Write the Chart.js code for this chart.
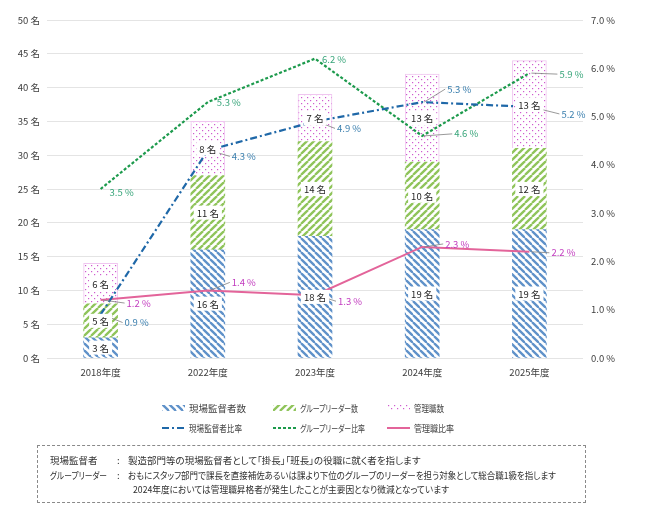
<!DOCTYPE html>
<html>
<head>
<meta charset="utf-8">
<script src="https://cdn.jsdelivr.net/npm/chart.js@4/dist/chart.umd.min.js"></script>
<style>
  body { margin: 0; background: #fff; font-family: "Noto Sans CJK JP", sans-serif; }
  #wrap { position: relative; width: 645px; height: 519px; }
  .lg { position: absolute; display: flex; align-items: center; font-size: 9.5px; color: #404040;
        font-feature-settings: "palt"; white-space: nowrap; }
  .lg canvas { margin-right: 4px; }
  .lg span, #note div { display: inline-block; transform-origin: 0 50%; }
  #note { position: absolute; left: 37px; top: 445px; width: 549px; height: 58px;
          border: 1px dashed #8a8a8a; box-sizing: border-box; font-size: 9.5px; color: #303030;
          font-feature-settings: "palt"; }
  #note div { position: absolute; white-space: nowrap; }
</style>
</head>
<body>
<div id="wrap">
  <canvas id="chart" width="645" height="519"></canvas>
  <div id="legend"></div>
  <div id="note">
    <div data-w="48" style="left:12px;top:7px">現場監督者</div>
    <div style="left:79px;top:7px">:</div>
    <div data-w="333" style="left:90px;top:7px">製造部門等の現場監督者として「掛長」「班長」の役職に就く者を指します</div>
    <div data-w="57" style="left:12px;top:22px">グループリーダー</div>
    <div style="left:79px;top:22px">:</div>
    <div data-w="428" style="left:90px;top:22px">おもにスタッフ部門で課長を直接補佐あるいは課より下位のグループのリーダーを担う対象として総合職1級を指します</div>
    <div data-w="316" style="left:95px;top:36px">2024年度においては管理職昇格者が発生したことが主要因となり微減となっています</div>
  </div>
</div>
<script>
const years = ["2018年度", "2022年度", "2023年度", "2024年度", "2025年度"];

const supervisors = [3, 16, 18, 19, 19];
const groupLeaders = [5, 11, 14, 10, 12];
const managers = [6, 8, 7, 13, 13];

const supervisorRate = [0.9, 4.3, 4.9, 5.3, 5.2];
const leaderRate = [3.5, 5.3, 6.2, 4.6, 5.9];
const managerRate = [1.2, 1.4, 1.3, 2.3, 2.2];

const countTicks = [0, 5, 10, 15, 20, 25, 30, 35, 40, 45, 50];
const rateTicks = [0, 1, 2, 3, 4, 5, 6, 7];

// hatch fills, like the office chart patterns
function makePattern(kind) {
    const c = document.createElement('canvas');
    const s = kind === 'dots' ? 6 : 7;
    c.width = s; c.height = s;
    const g = c.getContext('2d');
    g.fillStyle = '#fff';
    g.fillRect(0, 0, s, s);
    if (kind === 'dots') {
        g.fillStyle = '#cf5acf';
        g.fillRect(1, 1, 1.2, 1.2);
        g.fillRect(4, 4, 1.2, 1.2);
    } else {
        g.strokeStyle = kind === 'back' ? '#5f91c9' : '#8fc45a';
        g.lineWidth = 2.3;
        for (const k of [-s, 0, s]) {
            g.beginPath();
            if (kind === 'back') { g.moveTo(k, 0); g.lineTo(k + s, s); }
            else { g.moveTo(k, s); g.lineTo(k + s, 0); }
            g.stroke();
        }
    }
    return g.createPattern(c, 'repeat');
}

const blueHatch = makePattern('back');
const greenHatch = makePattern('fwd');
const pinkDots = makePattern('dots');

const labelFont = '9.5px "Noto Sans CJK JP", sans-serif';

// boxed "n 名" labels in the middle of each bar piece, then % labels with leaders
const labelPlugin = {
    id: 'labels',
    afterDatasetsDraw(chart) {
        const ctx = chart.ctx;
        ctx.save();
        ctx.font = labelFont;
        ctx.textBaseline = 'middle';
        chart.data.datasets.forEach((ds, i) => {
            if (ds.type !== 'line') return;
            const meta = chart.getDatasetMeta(i);
            meta.data.forEach((pt, j) => {
                const [dx, dy] = ds.labelOffsets[j];
                const tx = pt.x + dx, ty = pt.y + dy;
                if (Math.hypot(dx, dy) > 14) {
                    ctx.strokeStyle = '#7f7f7f';
                    ctx.lineWidth = 0.8;
                    ctx.setLineDash([]);
                    ctx.beginPath();
                    ctx.moveTo(pt.x + 2, pt.y);
                    ctx.lineTo(tx - 2, ty);
                    ctx.stroke();
                }
                ctx.fillStyle = ds.labelColor;
                ctx.textAlign = 'left';
                ctx.fillText(ds.data[j].toFixed(1) + ' %', tx, ty);
            });
        });
        chart.data.datasets.forEach((ds, i) => {
            if (ds.type === 'line') return;
            const meta = chart.getDatasetMeta(i);
            meta.data.forEach((bar, j) => {
                const txt = ds.data[j] + ' 名';
                const cy = (bar.y + bar.base) / 2;
                const w = ctx.measureText(txt).width + 6;
                ctx.fillStyle = '#fff';
                ctx.fillRect(bar.x - w / 2, cy - 7, w, 14);
                ctx.fillStyle = '#262626';
                ctx.textAlign = 'center';
                ctx.fillText(txt, bar.x, cy + 0.5);
            });
        });
        ctx.restore();
    }
};

const tickFont = { family: '"Noto Sans CJK JP", sans-serif', size: 9.5 };

const config = {
    type: 'bar',
    data: {
        labels: years,
        datasets: [
            {
                label: '現場監督者数',
                data: supervisors,
                backgroundColor: blueHatch,
                yAxisID: 'y',
                order: 1,
            },
            {
                label: 'グループリーダー数',
                data: groupLeaders,
                backgroundColor: greenHatch,
                yAxisID: 'y',
                order: 1,
            },
            {
                label: '管理職数',
                data: managers,
                backgroundColor: pinkDots,
                borderColor: '#f0c6f0',
                borderWidth: 1,
                yAxisID: 'y',
                order: 1,
            },
            {
                type: 'line',
                label: '現場監督者比率',
                data: supervisorRate,
                borderColor: '#1f68a8',
                borderWidth: 2.2,
                borderDash: [7, 3, 2, 3],
                yAxisID: 'y1',
                order: 0,
                labelColor: '#3a7fae',
                labelOffsets: [[24, 8], [24, 6], [22, 7], [25, -13], [32, 7]],
            },
            {
                type: 'line',
                label: 'グループリーダー比率',
                data: leaderRate,
                borderColor: '#1c9a4c',
                borderWidth: 2.2,
                borderDash: [3, 2],
                yAxisID: 'y1',
                order: 0,
                labelColor: '#38a57a',
                labelOffsets: [[9, 3], [9, 0], [7, 1], [32, -2], [30, 1]],
            },
            {
                type: 'line',
                label: '管理職比率',
                data: managerRate,
                borderColor: '#e3649a',
                borderWidth: 2,
                yAxisID: 'y1',
                order: 0,
                labelColor: '#c23cbf',
                labelOffsets: [[26, 3], [24, -8], [23, 6], [23, -3], [22, 1]],
            },
        ]
    },
    options: {
        responsive: false,
        animation: false,
        layout: { padding: { top: 20, bottom: 133, left: 0, right: 0 } },
        datasets: {
            bar: { barThickness: 34 },
            line: { pointRadius: 0, tension: 0, fill: false },
        },
        plugins: {
            legend: { display: false },
            tooltip: { enabled: false },
        },
        scales: {
            x: {
                stacked: true,
                grid: { display: false, drawTicks: false },
                border: { display: false },
                ticks: { font: tickFont, color: '#404040', padding: 9 },
                afterFit: (s) => { s.height = 28; },
            },
            y: {
                stacked: true,
                position: 'left',
                min: 0,
                max: 50,
                grid: { color: '#e4e4e4', drawTicks: false },
                border: { display: false },
                afterBuildTicks: (s) => { s.ticks = countTicks.map(v => ({ value: v })); },
                ticks: { font: tickFont, color: '#404040', padding: 7, callback: v => v + ' 名' },
                afterFit: (s) => { s.width = 47; },
            },
            y1: {
                position: 'right',
                min: 0,
                max: 7,
                grid: { display: false, drawTicks: false },
                border: { display: false },
                afterBuildTicks: (s) => { s.ticks = rateTicks.map(v => ({ value: v })); },
                ticks: { font: tickFont, color: '#404040', padding: 8, callback: v => v.toFixed(1) + ' %' },
                afterFit: (s) => { s.width = 62; },
            },
        },
    },
    plugins: [labelPlugin],
};

const myChart = new Chart(document.getElementById('chart').getContext('2d'), config);

// legend laid out in two rows like the original sheet; text squeezed to the narrow UI font widths
const legendSpots = [[162, 408, 58], [273, 408, 58], [387, 408, 30], [162, 428, 53], [273, 428, 65], [387, 428, 40]];
const legendBox = document.getElementById('legend');
config.data.datasets.forEach((ds, i) => {
    const [lx, ly, tw] = legendSpots[i];
    const item = document.createElement('div');
    item.className = 'lg';
    item.style.left = lx + 'px';
    item.style.top = (ly - 7) + 'px';
    item.style.height = '14px';
    const sw = document.createElement('canvas');
    sw.width = 23; sw.height = 8;
    const g = sw.getContext('2d');
    if (ds.type === 'line') {
        g.strokeStyle = ds.borderColor;
        g.lineWidth = 2;
        g.setLineDash(ds.borderDash || []);
        g.beginPath(); g.moveTo(0, 4); g.lineTo(23, 4); g.stroke();
    } else {
        g.fillStyle = ds.backgroundColor;
        g.fillRect(0, 1, 23, 6);
    }
    item.appendChild(sw);
    const t = document.createElement('span');
    t.textContent = ds.label;
    t.dataset.w = tw;
    item.appendChild(t);
    legendBox.appendChild(item);
});

document.querySelectorAll('[data-w]').forEach(el => {
    const w = el.getBoundingClientRect().width;
    const k = Math.min(1, el.dataset.w / w);
    el.style.transform = 'scaleX(' + k.toFixed(3) + ')';
});
</script>
</body>
</html>
